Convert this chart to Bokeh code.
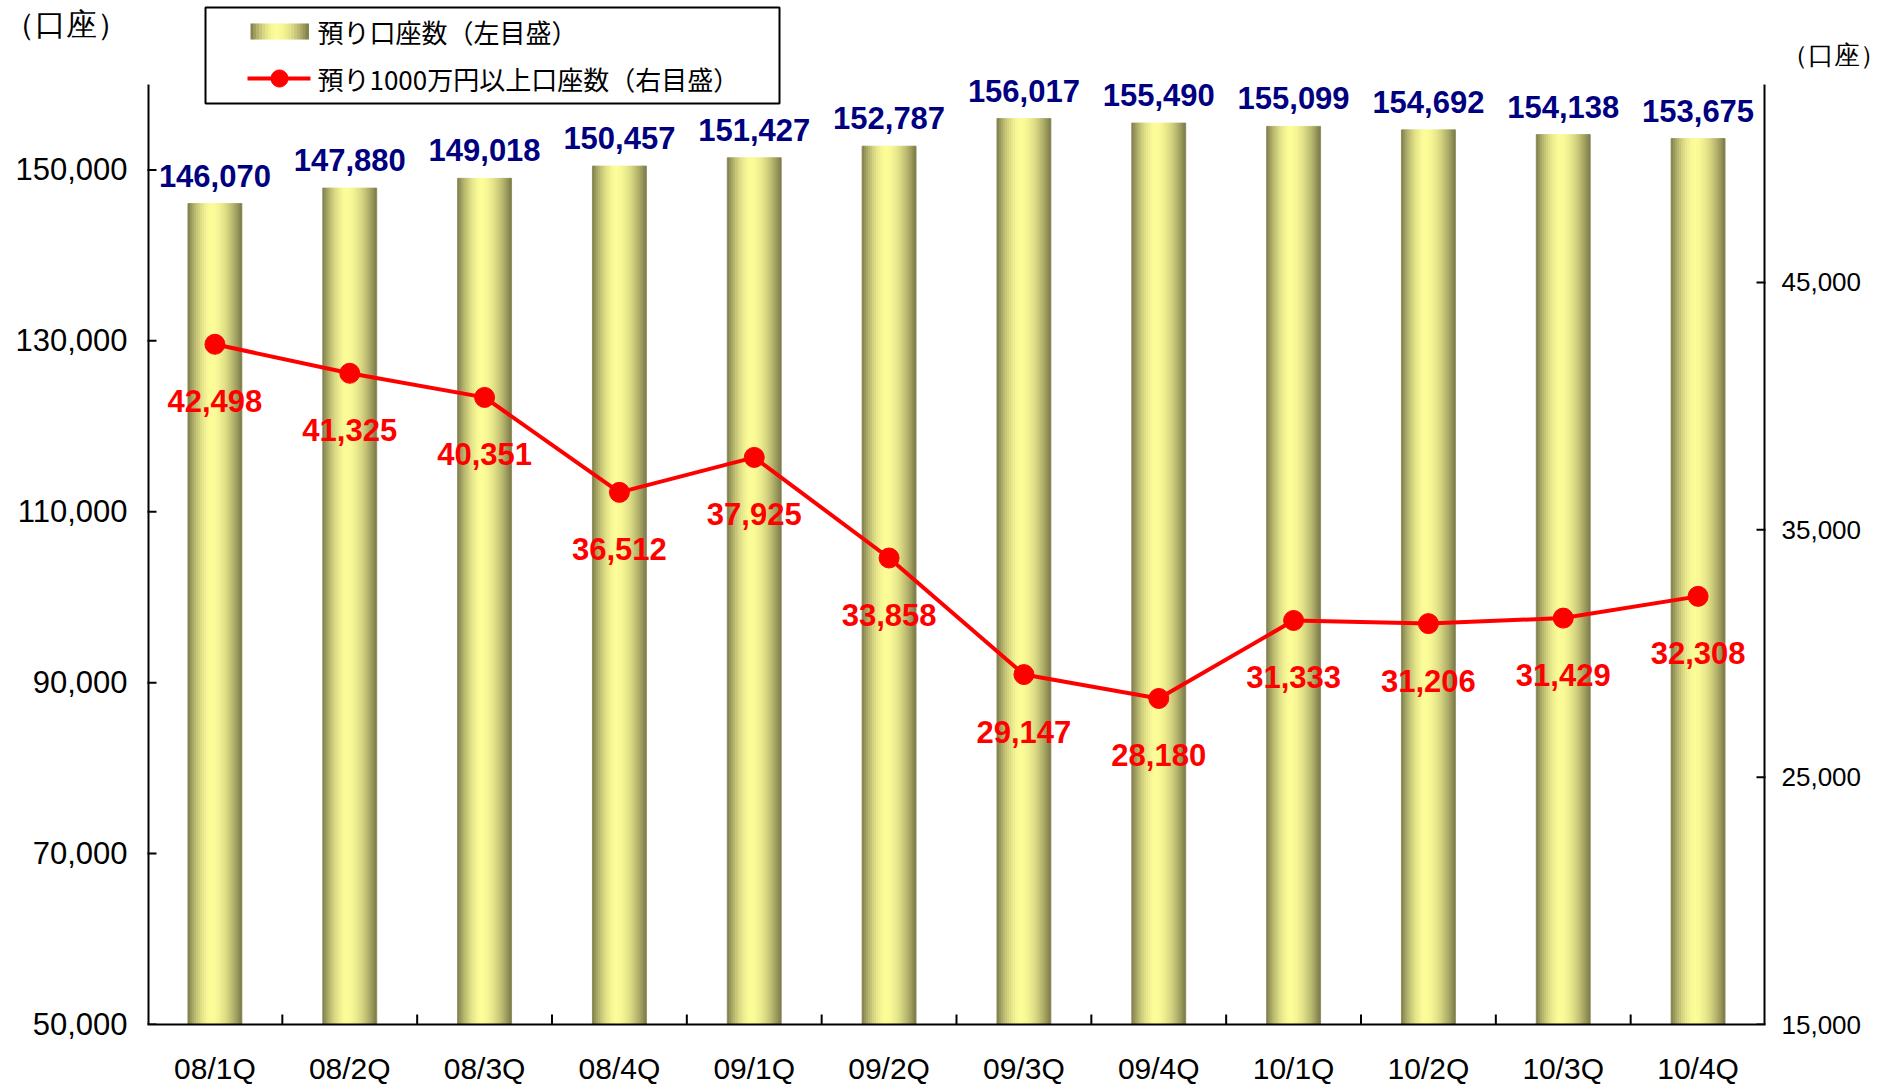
import numpy as np
from bokeh.plotting import figure
from bokeh.models import (Range1d, LinearAxis, FixedTicker, NumeralTickFormatter,
                          ColumnDataSource, LabelSet, Label, BoxAnnotation,
                          PolyAnnotation, FactorRange)
from bokeh.core.properties import value
from bokeh.transform import dodge
from bokeh.embed import file_html
from bokeh.resources import INLINE

# ---------------- data ----------------
quarters = ["08/1Q", "08/2Q", "08/3Q", "08/4Q", "09/1Q", "09/2Q",
            "09/3Q", "09/4Q", "10/1Q", "10/2Q", "10/3Q", "10/4Q"]
accounts = [146070, 147880, 149018, 150457, 151427, 152787,
            156017, 155490, 155099, 154692, 154138, 153675]
large_accounts = [42498, 41325, 40351, 36512, 37925, 33858,
                  29147, 28180, 31333, 31206, 31429, 32308]
left_ticks = [50000, 70000, 90000, 110000, 130000, 150000]
right_ticks = [15000, 25000, 35000, 45000]
left_limits = [50000, 160000]
right_limits = [15000, 53000]
bar_name = "預り口座数（左目盛）"
line_name = "預り1000万円以上口座数（右目盛）"
unit_text = "（口座）"

# ---------------- layout (canvas pixels) ----------------
W, H = 1888, 1087
BL, BR, BT, BB = 147, 120, 0, 63
FRAME_BOTTOM = H - BB          # canvas y of frame bottom
AXIS_TOP = 84                  # canvas y where the value axes end
span_px = FRAME_BOTTOM - AXIS_TOP

def ext(lim, px):
    lo, hi = lim
    return hi + (hi - lo) * px / span_px

left_top = ext(left_limits, AXIS_TOP)
right_top = ext(right_limits, AXIS_TOP)
unit_left_val = int(round(ext(left_limits, AXIS_TOP - 24), -2))
unit_right_val = int(round(ext(right_limits, AXIS_TOP - 54), -2))

def sx(cx):
    return cx - BL

def sy(cy):
    return FRAME_BOTTOM - cy

NUM_FONT = "Liberation Sans"
CJK_FONT = "Noto Sans CJK JP"

def grad(t, peak=0.45):
    u = abs(t - peak) / (peak if t < peak else 1 - peak)
    s = max(0.0, 1 - u ** 1.8)
    dark = (122, 121, 72)
    light = (252, 252, 152)
    c = tuple(int(round(d + (l - d) * s)) for d, l in zip(dark, light))
    return "#%02x%02x%02x" % c

src = ColumnDataSource(dict(
    q=quarters,
    bars=accounts,
    large=large_accounts,
    bar_txt=[f"{v:,}" for v in accounts],
    large_txt=[f"{v:,}" for v in large_accounts],
))
bsrc = ColumnDataSource(dict(q=quarters[:-1], base=[left_limits[0]] * (len(quarters) - 1)))
lsrc = ColumnDataSource(dict(q=[quarters[0]] * len(left_ticks), t=left_ticks))
rsrc = ColumnDataSource(dict(q=[quarters[-1]] * len(right_ticks), t=right_ticks))
ledge = ColumnDataSource(dict(q=[quarters[0]], lo=[left_limits[0]], hi=[left_limits[1]]))
redge = ColumnDataSource(dict(q=[quarters[-1]], lo=[right_limits[0]], hi=[right_limits[1]]))

p = figure(x_range=FactorRange(factors=quarters),
           y_range=Range1d(left_limits[0], left_top),
           width=W, height=H,
           output_backend="svg", toolbar_location=None,
           min_border_left=BL, min_border_right=BR,
           min_border_top=BT, min_border_bottom=BB)
p.extra_y_ranges = {"right": Range1d(right_limits[0], right_top)}
p.title.visible = False
p.outline_line_color = None
p.xgrid.visible = False
p.ygrid.visible = False
p.background_fill_color = "white"
p.border_fill_color = "white"

# ---------------- bars (gradient strips) ----------------
BAR_W = 0.4
N = 26
for i in range(N):
    t = (i + 0.5) / N
    off = -BAR_W / 2 + t * BAR_W
    col = grad(t)
    p.vbar(x=dodge("q", off, range=p.x_range), top="bars", bottom=left_limits[0],
           width=BAR_W / N, source=src, fill_color=col, line_color=col, line_width=0.8)

# ---------------- line ----------------
p.line(x="q", y="large", source=src, y_range_name="right",
       line_color="#ff0000", line_width=4)
p.scatter(x="q", y="large", source=src, y_range_name="right",
          marker="circle", size=20, fill_color="#ff0000", line_color="#ff0000")

# value-axis rules and inward ticks (stop at the axis limits)
p.segment(x0=dodge("q", -0.5, range=p.x_range), y0="lo",
          x1=dodge("q", -0.5, range=p.x_range), y1="hi",
          source=ledge, line_color="black", line_width=4)
p.segment(x0=dodge("q", 0.5, range=p.x_range), y0="lo",
          x1=dodge("q", 0.5, range=p.x_range), y1="hi",
          source=redge, y_range_name="right", line_color="black", line_width=4)
p.scatter(x=dodge("q", -0.5, range=p.x_range), y="t", source=lsrc,
          marker="dash", size=18, line_color="black", line_width=2)
p.scatter(x=dodge("q", 0.5, range=p.x_range), y="t", source=rsrc, y_range_name="right",
          marker="dash", size=18, line_color="black", line_width=2)
# boundary ticks on the category axis
p.scatter(x=dodge("q", 0.5, range=p.x_range), y="base", source=bsrc,
          marker="dash", angle=np.pi / 2, size=20, line_color="black", line_width=2)

# ---------------- axes ----------------
xa = p.xaxis[0]
xa.axis_line_width = 2
xa.axis_line_color = "black"
xa.major_tick_line_color = None
xa.major_tick_out = 0
xa.major_tick_in = 0
xa.minor_tick_line_color = None
xa.major_label_text_font = NUM_FONT
xa.major_label_text_font_size = "30px"
xa.major_label_text_color = "black"
xa.major_label_standoff = 27

ya = p.yaxis[0]
ya.ticker = FixedTicker(ticks=left_ticks + [unit_left_val])
ya.formatter = NumeralTickFormatter(format="0,0")
ya.major_label_overrides = {unit_left_val: unit_text}
ya.axis_line_color = None
ya.major_tick_line_color = None
ya.major_tick_out = 0
ya.major_tick_in = 0
ya.minor_tick_line_color = None
ya.major_label_text_font = NUM_FONT
ya.major_label_text_font_size = "31px"
ya.major_label_text_color = "black"
ya.major_label_standoff = 20

ra = LinearAxis(y_range_name="right", ticker=FixedTicker(ticks=right_ticks + [unit_right_val]),
                formatter=NumeralTickFormatter(format="0,0"))
ra.major_label_overrides = {unit_right_val: unit_text}
ra.axis_line_color = None
ra.major_tick_line_color = None
ra.major_tick_out = 0
ra.major_tick_in = 0
ra.minor_tick_line_color = None
ra.major_label_text_font = NUM_FONT
ra.major_label_text_font_size = "26px"
ra.major_label_text_color = "black"
ra.major_label_standoff = 16
p.add_layout(ra, "right")

# ---------------- value labels ----------------
p.add_layout(LabelSet(x="q", y="bars", text="bar_txt", source=src,
                      text_font=value(NUM_FONT), text_font_size=value("31px"),
                      text_font_style="bold", text_color="#000080",
                      text_align="center", text_baseline="alphabetic",
                      y_offset=17))
p.add_layout(LabelSet(x="q", y="large", text="large_txt", source=src,
                      y_range_name="right",
                      text_font=value(NUM_FONT), text_font_size=value("31px"),
                      text_font_style="bold", text_color="#ff0000",
                      text_align="center", text_baseline="alphabetic",
                      y_offset=-68))

# ---------------- legend (manual, inside the frame) ----------------
p.add_layout(BoxAnnotation(left=sx(205), right=sx(779), top=sy(7), bottom=sy(103),
                           left_units="screen", right_units="screen",
                           top_units="screen", bottom_units="screen",
                           fill_color="white", fill_alpha=1.0,
                           line_color="black", line_alpha=1.0, line_width=2))
SW_L, SW_R = 250, 308
M = 20
for i in range(M):
    t = (i + 0.5) / M
    x0 = SW_L + (SW_R - SW_L) * i / M
    x1 = SW_L + (SW_R - SW_L) * (i + 1) / M
    col = grad(t)
    p.add_layout(BoxAnnotation(left=sx(x0), right=sx(x1) + 0.5, top=sy(23), bottom=sy(39),
                               left_units="screen", right_units="screen",
                               top_units="screen", bottom_units="screen",
                               fill_color=col, fill_alpha=1.0, line_color=None))
p.add_layout(BoxAnnotation(left=sx(247), right=sx(310), top=sy(76), bottom=sy(80),
                           left_units="screen", right_units="screen",
                           top_units="screen", bottom_units="screen",
                           fill_color="#ff0000", fill_alpha=1.0, line_color=None))
ang = np.linspace(0, 2 * np.pi, 32, endpoint=False)
p.add_layout(PolyAnnotation(xs=list(sx(279) + 8.5 * np.cos(ang)),
                            ys=list(sy(78) + 8.5 * np.sin(ang)),
                            xs_units="screen", ys_units="screen",
                            fill_color="#ff0000", fill_alpha=1.0,
                            line_color="#ff0000", line_alpha=1.0))
p.add_layout(Label(x=sx(317), y=sy(31), x_units="screen", y_units="screen",
                   text=bar_name, text_font=CJK_FONT, text_font_size="26px",
                   text_color="black", text_baseline="middle"))
p.add_layout(Label(x=sx(317), y=sy(78), x_units="screen", y_units="screen",
                   text=line_name, text_font=CJK_FONT, text_font_size="26px",
                   text_color="black", text_baseline="middle"))

open("out.html", "w").write(file_html(p, INLINE))
